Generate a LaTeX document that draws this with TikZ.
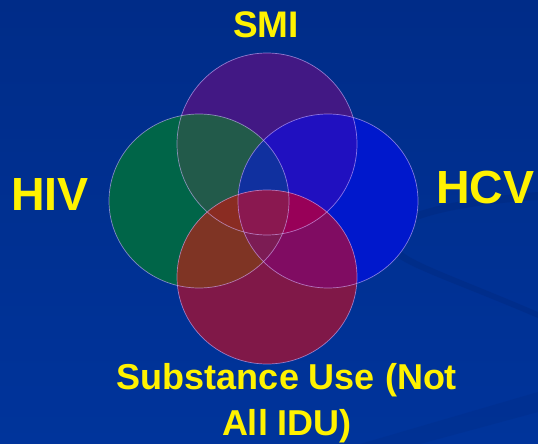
\documentclass[tikz,border=0pt]{standalone}
\usepackage{fontspec}
\setmainfont{Liberation Sans}
\usepackage{xcolor}
\definecolor{bgtop}{RGB}{0,44,136}
\definecolor{bgbot}{RGB}{0,52,155}
\definecolor{smicol}{RGB}{66,24,132}
\definecolor{hivcol}{RGB}{0,101,72}
\definecolor{hcvcol}{RGB}{0,24,204}
\definecolor{sucol}{RGB}{128,24,72}
\definecolor{smihiv}{RGB}{34,90,74}
\definecolor{smihcv}{RGB}{32,16,192}
\definecolor{hivsu}{RGB}{127,52,36}
\definecolor{hcvsu}{RGB}{128,12,98}
\definecolor{smihivhcv}{RGB}{16,48,159}
\definecolor{smihivsu}{RGB}{138,44,34}
\definecolor{smihcvsu}{RGB}{152,0,88}
\definecolor{hivhcvsu}{RGB}{124,28,84}
\definecolor{allfour}{RGB}{138,24,80}
\definecolor{rimcol}{RGB}{214,180,255}
\definecolor{swcol}{RGB}{0,34,110}

\def\csmi{(267,144) ellipse [x radius=90, y radius=91]}
\def\chiv{(199,201) ellipse [x radius=90, y radius=87]}
\def\chcv{(328,201) ellipse [x radius=90, y radius=87]}
\def\csu{(267,277) ellipse [x radius=90, y radius=87]}

\begin{document}
\begin{tikzpicture}[x=1pt, y=-1pt,
  vtext/.style={text=yellow, inner sep=0, font=\bfseries\fontsize{#1}{#1}\selectfont},
  rim/.style={draw=rimcol, draw opacity=.6, line width=.7pt},
  swoosh/.style={fill=swcol, fill opacity=.25}]
 \useasboundingbox (0,0) rectangle (538,444);
 \shade[top color=bgtop, bottom color=bgbot] (0,0) rectangle (538,444);
 % background swooshes
 \fill[swoosh] (538,192) .. controls (440,200) and (385,215) .. (385,240)
   .. controls (386,262) and (430,272) .. (538,318) -- (538,312)
   .. controls (435,268) and (396,258) .. (394,240)
   .. controls (393,222) and (445,206) .. (538,200) -- cycle;
 \fill[swoosh, fill opacity=.15] (360,444) -- (538,392) -- (538,412) -- (420,444) -- cycle;
 % single sets
 \fill[smicol] \csmi;
 \fill[hivcol] \chiv;
 \fill[hcvcol] \chcv;
 \fill[sucol] \csu;
 % pairs
 \begin{scope}
  \clip \csmi;
  \fill[smihiv] \chiv;
  \fill[smihcv] \chcv;
 \end{scope}
 \begin{scope}
  \clip \csu;
  \fill[hivsu] \chiv;
  \fill[hcvsu] \chcv;
 \end{scope}
 % triples
 \foreach \a/\b/\c/\col in {\csmi/\chiv/\chcv/smihivhcv, \csmi/\chiv/\csu/smihivsu,
   \csmi/\chcv/\csu/smihcvsu, \chiv/\chcv/\csu/hivhcvsu}{
  \begin{scope}
   \clip \a; \clip \b;
   \fill[\col] \c;
  \end{scope}
 }
 % all four
 \begin{scope}
  \clip \csmi; \clip \chiv; \clip \chcv;
  \fill[allfour] \csu;
 \end{scope}
 \draw[rim] \csmi;
 \draw[rim] \chiv;
 \draw[rim] \chcv;
 \draw[rim] \csu;
 % labels
 \node[vtext=37, anchor=base] (smi) at (266,38) {SMI};
 \node[vtext=46.5, anchor=base] (hiv) at (50,210) {HIV};
 \node[vtext=46.5, anchor=base] (hcv) at (485.5,203) {HCV};
 \node[vtext=36, anchor=base, align=center] (su) at (287,435)
   {Substance Use (Not\\[10pt] All IDU)};
\end{tikzpicture}
\end{document}
